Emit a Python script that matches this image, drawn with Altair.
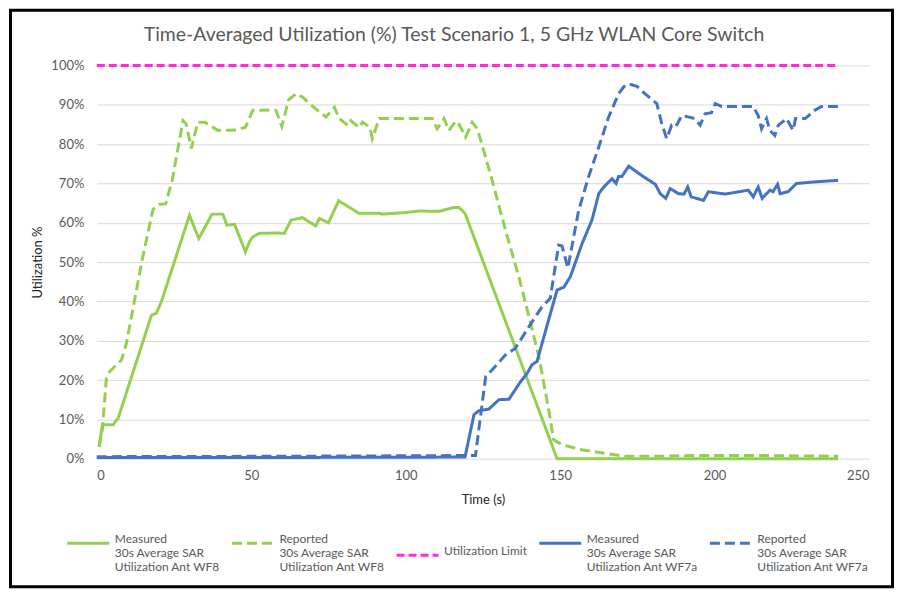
import altair as alt
import pandas as pd

# ---------------- data ----------------
x_ticks = [0, 50, 100, 150, 200, 250]
y_ticks = [0, 10, 20, 30, 40, 50, 60, 70, 80, 90, 100]

series_names = [
    "Measured|30s Average SAR|Utilization Ant WF8",
    "Reported|30s Average SAR|Utilization Ant WF8",
    "Utilization Limit",
    "Measured|30s Average SAR|Utilization Ant WF7a",
    "Reported|30s Average SAR|Utilization Ant WF7a",
]

wf8_measured = [
    (0.75, 3.1), (1.8, 8.6), (5.3, 8.6), (6.4, 9.9), (6.8, 10.0), (17.7, 36.5),
    (19.3, 37.0), (20.9, 39.9), (30.0, 61.9), (33.0, 56.0), (35.4, 59.4),
    (37.3, 62.2), (40.8, 62.2), (42.1, 59.4), (44.6, 59.6), (48.1, 52.6),
    (49.5, 55.3), (50.5, 56.4), (52.6, 57.3), (58.0, 57.4), (60.7, 57.3),
    (62.9, 60.7), (66.6, 61.3), (70.9, 59.2), (72.0, 61.1), (75.0, 60.0),
    (78.3, 65.6), (84.9, 62.4), (91.4, 62.4), (92.5, 62.2), (100.0, 62.6),
    (104.3, 63.0), (110.8, 62.9), (115.6, 63.9), (117.2, 63.9), (119.2, 62.4),
    (149.0, 0.0), (170.0, 0.0), (200.0, 0.0), (220.0, 0.0), (240.0, 0.0),
]

wf8_reported = [
    (0.75, 3.0), (1.8, 7.4), (3.1, 20.5), (4.2, 22.2), (8.0, 25.1), (9.6, 29.4),
    (14.9, 51.4), (18.2, 63.4), (20.3, 64.7), (22.3, 64.8), (24.4, 70.8),
    (27.9, 86.0), (28.9, 85.2), (30.6, 78.9), (32.7, 85.6), (34.9, 85.6),
    (39.2, 83.5), (45.1, 83.6), (48.1, 84.3), (50.5, 88.6), (55.9, 88.7),
    (58.0, 88.6), (59.9, 84.5), (62.1, 91.3), (64.5, 92.8), (66.6, 92.0),
    (69.3, 90.0), (74.2, 86.9), (76.9, 89.4), (78.5, 86.5), (81.2, 84.8),
    (82.2, 86.0), (84.9, 84.2), (86.0, 85.6), (88.4, 84.3), (89.2, 81.4),
    (91.4, 86.5), (108.6, 86.5), (110.2, 83.9), (112.4, 86.5), (114.0, 83.5),
    (116.2, 85.9), (117.3, 85.0), (119.4, 81.8), (121.5, 85.6), (123.2, 83.9),
    (128.0, 70.8), (132.3, 58.1), (136.6, 46.3), (139.9, 36.1), (143.1, 26.0),
    (146.3, 12.4), (147.9, 4.8), (150.6, 3.6), (156.0, 2.4), (171.0, 0.6),
    (181.8, 0.6), (192.6, 0.8), (214.0, 0.8), (240.0, 0.6),
]

utilization_limit = [(0.0, 100.0), (240.0, 100.0)]

wf7a_measured = [
    (0.0, 0.3), (60.0, 0.3), (119.2, 0.4), (122.1, 11.2), (123.7, 12.2),
    (126.9, 12.6), (130.2, 15.0), (133.4, 15.1), (137.2, 19.6), (139.3, 21.7),
    (140.9, 23.9), (142.5, 24.7), (145.2, 32.3), (149.0, 42.9), (151.2, 43.6),
    (153.3, 46.3), (157.1, 54.7), (160.3, 60.7), (162.5, 67.4), (164.1, 69.1),
    (166.8, 71.2), (168.1, 70.0), (168.9, 71.8), (170.0, 71.8), (172.2, 74.4),
    (177.0, 71.7), (180.8, 69.8), (182.4, 67.4), (184.2, 66.2), (185.6, 68.7),
    (188.3, 67.4), (190.1, 67.3), (191.3, 69.1), (192.4, 66.6), (196.4, 65.7),
    (198.0, 67.9), (203.4, 67.3), (210.9, 68.3), (212.5, 66.6), (214.1, 69.1),
    (215.4, 66.2), (217.9, 68.3), (218.9, 67.9), (220.4, 69.8), (221.2, 67.4),
    (223.8, 67.9), (226.5, 70.0), (232.4, 70.4), (240.0, 70.8),
]

wf7a_reported = [
    (0.0, 0.5), (60.0, 0.6), (122.6, 0.8), (124.2, 10.7), (125.9, 20.9),
    (128.0, 22.6), (132.3, 26.4), (135.5, 28.1), (139.9, 33.6), (144.2, 38.7),
    (146.8, 40.8), (149.5, 54.3), (150.6, 54.1), (152.5, 48.5), (156.0, 63.2),
    (159.2, 71.7), (162.5, 79.3), (165.7, 86.9), (168.9, 92.8), (170.6, 94.6),
    (172.2, 95.3), (174.9, 94.7), (177.5, 92.8), (181.3, 90.3), (182.9, 85.2),
    (184.5, 81.4), (186.1, 84.8), (187.4, 84.4), (189.4, 87.3), (192.1, 86.8),
    (193.5, 86.5), (195.3, 84.8), (196.9, 87.7), (199.0, 88.0), (200.2, 90.3),
    (202.3, 89.6), (212.5, 89.6), (214.1, 87.3), (215.2, 83.9), (216.8, 86.5),
    (217.9, 83.5), (219.5, 82.2), (220.6, 84.8), (223.3, 86.5), (225.4, 83.5),
    (226.2, 86.5), (229.3, 86.5), (232.4, 88.6), (234.6, 89.6), (240.0, 89.6),
]

series_points = [wf8_measured, wf8_reported, utilization_limit, wf7a_measured, wf7a_reported]

# ---------------- styles ----------------
colors = ["#92D050", "#92D050", "#FF2BD6", "#4472C4", "#4472C4"]
dashes = [[1, 0], [10, 5], [8, 4], [1, 0], [10, 5]]
widths = [3, 3, 2, 3, 3]
FONT = "Lato"

rows = []
for name, pts in zip(series_names, series_points):
    for t, v in pts:
        rows.append({"t": t, "v": v, "series": name})
df = pd.DataFrame(rows)

legend = alt.Legend(
    title=None,
    orient="none",
    legendX=-31,
    legendY=456,
    direction="horizontal",
    columns=5,
    columnPadding=5,
    symbolType="stroke",
    symbolSize=1764,
    symbolStrokeWidth=3,
    labelOffset=4,
    labelFont=FONT,
    labelFontSize=12,
    labelColor="#595959",
    labelBaseline="alphabetic",
    labelLimit=300,
    labelExpr="split(datum.label, '|')",
    padding=0,
)

lines = alt.Chart(df).mark_line(interpolate="linear").encode(
    x=alt.X("t:Q", scale=alt.Scale(domain=[0, 250], nice=False),
            axis=alt.Axis(values=x_ticks, title="Time (s)", grid=False,
                          labelPadding=11, titlePadding=11)),
    y=alt.Y("v:Q", scale=alt.Scale(domain=[0, 100], nice=False),
            axis=alt.Axis(values=y_ticks, title="Utilization %",
                          labelExpr="datum.value + '%'", labelPadding=13,
                          titlePadding=6)),
    color=alt.Color("series:N", scale=alt.Scale(domain=series_names, range=colors),
                    legend=legend, sort=series_names),
    strokeDash=alt.StrokeDash("series:N", scale=alt.Scale(domain=series_names, range=dashes),
                              legend=legend, sort=series_names),
    strokeWidth=alt.StrokeWidth("series:N", scale=alt.Scale(domain=series_names, range=widths),
                                legend=None),
    detail="series:N",
)

frame = alt.Chart(pd.DataFrame({"a": [0]})).mark_rect(
    fill="transparent", stroke="#000000", strokeWidth=3
).encode(
    x=alt.value(-86.5), x2=alt.value(797.5), y=alt.value(-55.5), y2=alt.value(522.5)
)

chart = alt.layer(lines, frame).properties(
    width=774,
    height=394,
    padding={"left": 89, "top": 57, "right": 27, "bottom": 130},
    autosize=alt.AutoSizeParams(type="none"),
    background="#FFFFFF",
    title=alt.TitleParams(
        text="Time-Averaged Utilization (%) Test Scenario 1, 5 GHz WLAN Core Switch",
        font=FONT, fontSize=19.5, fontWeight="normal", color="#595959",
        anchor="middle", frame="group", dx=-29, offset=-37,
    ),
).configure_view(stroke=None).configure_axis(
    gridColor="#D9D9D9",
    gridWidth=1,
    domain=False,
    ticks=False,
    labelColor="#595959",
    labelFont=FONT,
    labelFontSize=13,
    titleFont=FONT,
    titleFontSize=13,
    titleFontWeight="normal",
    titleColor="#262626",
)

chart.save("out.html", embed_options={"renderer": "svg", "actions": False})
